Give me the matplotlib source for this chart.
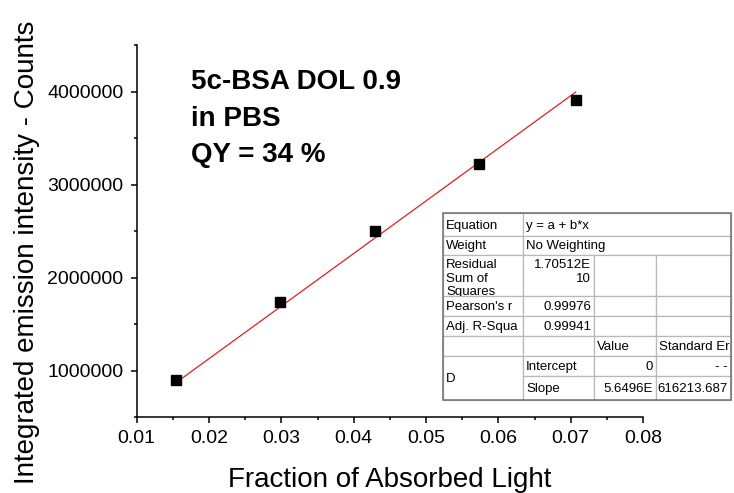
import numpy as np
import matplotlib.pyplot as plt
from matplotlib.patches import Rectangle
from matplotlib.ticker import MultipleLocator

plt.rcParams['font.family'] = ['Liberation Sans', 'DejaVu Sans']

# measured points
frac_abs = [0.0154, 0.0298, 0.0429, 0.0573, 0.0707]
counts = [900000, 1740000, 2497000, 3219000, 3912000]

# linear fit through origin
fit_intercept = 0.0
fit_slope = 5.6496e7

title_lines = ['5c-BSA DOL 0.9', 'in PBS', 'QY = 34 %']

# fit report table: (row, col, rowspan, colspan, text, align)
report_cells = [
    (0, 0, 1, 1, 'Equation', 'left'), (0, 1, 1, 3, 'y = a + b*x', 'left'),
    (1, 0, 1, 1, 'Weight', 'left'), (1, 1, 1, 3, 'No Weighting', 'left'),
    (2, 0, 1, 1, 'Residual\nSum of\nSquares', 'left'), (2, 1, 1, 1, '1.70512E\n10', 'right'),
    (2, 2, 1, 1, '', 'left'), (2, 3, 1, 1, '', 'left'),
    (3, 0, 1, 1, "Pearson's r", 'left'), (3, 1, 1, 1, '0.99976', 'right'),
    (3, 2, 1, 1, '', 'left'), (3, 3, 1, 1, '', 'left'),
    (4, 0, 1, 1, 'Adj. R-Squa', 'left'), (4, 1, 1, 1, '0.99941', 'right'),
    (4, 2, 1, 1, '', 'left'), (4, 3, 1, 1, '', 'left'),
    (5, 0, 1, 1, '', 'left'), (5, 1, 1, 1, '', 'left'),
    (5, 2, 1, 1, 'Value', 'left'), (5, 3, 1, 1, 'Standard Er', 'left'),
    (6, 0, 2, 1, 'D', 'left'), (6, 1, 1, 1, 'Intercept', 'left'),
    (6, 2, 1, 1, '0', 'right'), (6, 3, 1, 1, '- -', 'right'),
    (7, 1, 1, 1, 'Slope', 'left'),
    (7, 2, 1, 1, '5.6496E', 'right'), (7, 3, 1, 1, '616213.687', 'right'),
]

W, H = 734, 493
fig = plt.figure(figsize=(W / 100, H / 100), dpi=100)
ax = fig.add_axes([136.7 / W, 1 - 417.3 / H, (643 - 136.7) / W, (417.3 - 45) / H])

xs = np.array([min(frac_abs), max(frac_abs)])
ax.plot(xs, fit_intercept + fit_slope * xs, color='red', lw=0.8, zorder=2)
ax.plot(frac_abs, counts, 's', color='black', ms=7, zorder=3)

ax.set_xlim(0.01, 0.08)
ax.set_ylim(500000, 4500000)
ax.xaxis.set_major_locator(MultipleLocator(0.01))
ax.xaxis.set_minor_locator(MultipleLocator(0.005))
ax.yaxis.set_major_locator(MultipleLocator(1000000))
ax.yaxis.set_minor_locator(MultipleLocator(500000))
ax.set_xticklabels([f'{v:.2f}' for v in ax.get_xticks()])
ax.set_yticklabels([f'{int(v)}' for v in ax.get_yticks()])
for s in ['top', 'right']:
    ax.spines[s].set_visible(False)
for s in ['left', 'bottom']:
    ax.spines[s].set_linewidth(1.1)
ax.tick_params(which='major', direction='out', length=4.5, width=1.1, labelsize=14, pad=5)
ax.tick_params(which='minor', direction='out', length=2.5, width=1.1)
ax.set_xlabel('Fraction of Absorbed Light', fontsize=20, labelpad=14)
ax.set_ylabel('Integrated emission intensity - Counts', fontsize=20, labelpad=5, y=0.444)

ax.text(0.107, 0.935, '\n'.join(title_lines), transform=ax.transAxes, fontsize=20,
        fontweight='bold', va='top', ha='left', linespacing=1.52)

# fit report drawn in pixel coordinates on an overlay
tab = fig.add_axes([0, 0, 1, 1], zorder=5)
tab.set_xlim(0, W)
tab.set_ylim(H, 0)
tab.axis('off')

row_edges = [213, 236, 255, 296, 316, 336, 356, 376, 400]
col_edges = [443, 523, 594, 656, 731]

for r, c, rs, cs, txt, align in report_cells:
    x0, x1 = col_edges[c], col_edges[c + cs]
    y0, y1 = row_edges[r], row_edges[r + rs]
    rect = Rectangle((x0, y0), x1 - x0, y1 - y0, facecolor='white',
                     edgecolor='#b8b8b8', lw=0.9)
    tab.add_patch(rect)
    if not txt:
        continue
    if align == 'left':
        tx = x0 + 3
    else:
        tx = x1 - 3
    if '\n' in txt:
        t = tab.text(tx, y0 + 4, txt, ha=align, va='top', fontsize=9.5,
                     linespacing=1.18, clip_on=True)
    else:
        t = tab.text(tx, (y0 + y1) / 2 + 1, txt, ha=align, va='center', fontsize=9.5,
                     clip_on=True)
    t.set_clip_path(rect)

tab.add_patch(Rectangle((col_edges[0], row_edges[0]), col_edges[-1] - col_edges[0],
                        row_edges[-1] - row_edges[0], facecolor='none',
                        edgecolor='#707070', lw=1.1))

fig.savefig('out.png', dpi=100)
